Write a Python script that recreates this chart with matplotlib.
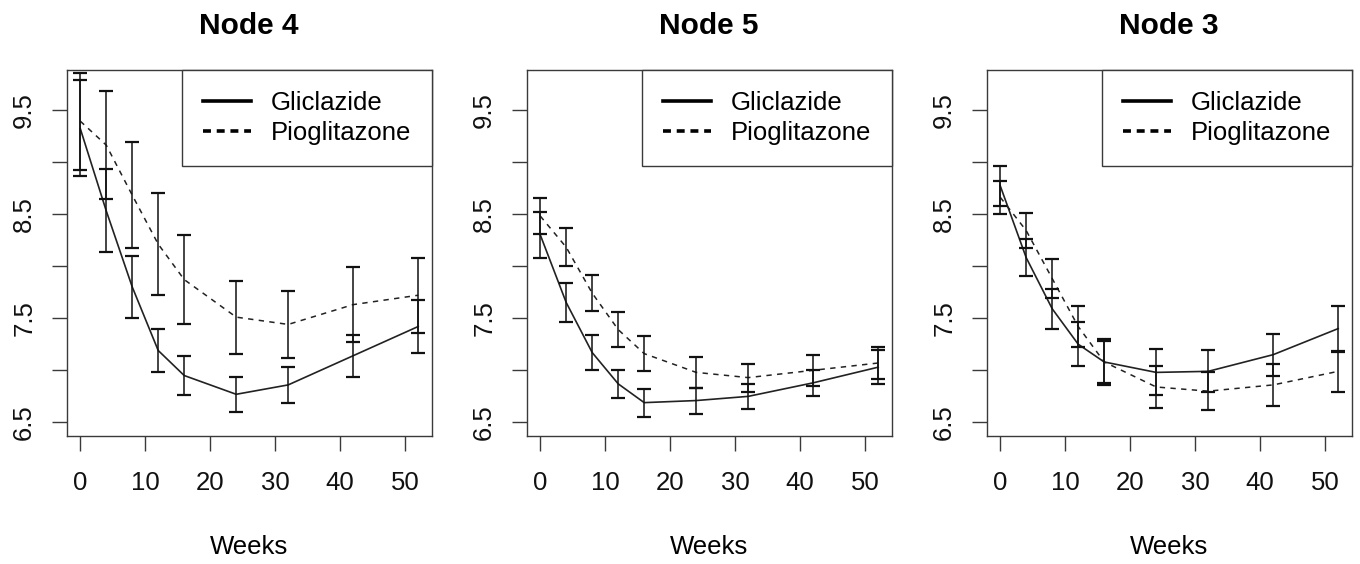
import matplotlib
matplotlib.use("Agg")
from matplotlib import pyplot as plt
from matplotlib.lines import Line2D

plt.rcParams['font.family'] = ['Liberation Sans', 'DejaVu Sans']

weeks = [0, 4, 8, 12, 16, 24, 32, 42, 52]
nodes = ["Node 4", "Node 5", "Node 3"]

# mean HbA1c and half-width of the interval, per node
glic_mean_n4 = [9.32, 8.53, 7.80, 7.19, 6.95, 6.77, 6.86, 7.14, 7.42]
glic_err_n4 = [0.46, 0.40, 0.30, 0.21, 0.19, 0.17, 0.17, 0.20, 0.25]
pio_mean_n4 = [9.39, 9.16, 8.68, 8.21, 7.87, 7.51, 7.44, 7.63, 7.72]
pio_err_n4 = [0.465, 0.52, 0.51, 0.49, 0.43, 0.35, 0.32, 0.36, 0.36]

glic_mean_n5 = [8.30, 7.65, 7.17, 6.87, 6.69, 6.71, 6.75, 6.88, 7.03]
glic_err_n5 = [0.22, 0.19, 0.165, 0.135, 0.135, 0.125, 0.12, 0.125, 0.16]
pio_mean_n5 = [8.48, 8.18, 7.74, 7.39, 7.16, 6.98, 6.93, 7.00, 7.07]
pio_err_n5 = [0.175, 0.18, 0.175, 0.17, 0.165, 0.15, 0.135, 0.15, 0.155]

glic_mean_n3 = [8.77, 8.08, 7.59, 7.25, 7.08, 6.98, 6.99, 7.15, 7.40]
glic_err_n3 = [0.19, 0.18, 0.19, 0.21, 0.22, 0.22, 0.20, 0.20, 0.22]
pio_mean_n3 = [8.66, 8.34, 7.88, 7.42, 7.08, 6.84, 6.80, 6.86, 6.99]
pio_err_n3 = [0.16, 0.17, 0.19, 0.20, 0.20, 0.20, 0.185, 0.20, 0.195]

series = [
    (glic_mean_n4, glic_err_n4, pio_mean_n4, pio_err_n4),
    (glic_mean_n5, glic_err_n5, pio_mean_n5, pio_err_n5),
    (glic_mean_n3, glic_err_n3, pio_mean_n3, pio_err_n3),
]

yticks = [6.5, 7.0, 7.5, 8.0, 8.5, 9.0, 9.5]
ylabels = ["6.5", "", "7.5", "", "8.5", "", "9.5"]

fig = plt.figure(figsize=(13.6, 5.64), dpi=100)
lefts = [66.7, 526.7, 986.7]
W, H = 1360, 564
axc = "#3a3a3a"

for i, (name, (gm, ge, pm, pe)) in enumerate(zip(nodes, series)):
    ax = fig.add_axes([lefts[i] / W, 1 - 436 / H, 365 / W, 366 / H])
    ax.plot(weeks, gm, color="#222222", lw=1.2, ls="-")
    ax.plot(weeks, pm, color="#222222", lw=1.1, ls=(0, (3.5, 3.5)))
    for m, e in ((gm, ge), (pm, pe)):
        ax.errorbar(weeks, m, yerr=e, fmt="none", ecolor="#111111",
                    elinewidth=1.1, capsize=5, capthick=1.6)

    ax.set_xlim(-2.08, 54.08)
    ax.set_ylim(6.37, 9.88)
    ax.set_xticks([0, 10, 20, 30, 40, 50])
    ax.set_yticks(yticks)
    ax.set_yticklabels(ylabels, rotation=90, va="center")
    ax.tick_params(axis="both", length=11, width=1, color=axc,
                   labelsize=18.5, labelcolor="#111111")
    ax.tick_params(axis="x", pad=14)
    ax.tick_params(axis="y", pad=11)
    for s in ax.spines.values():
        s.set_color(axc)
        s.set_linewidth(1)

    ax.set_title(name, fontsize=21.5, fontweight="bold", pad=26)
    ax.set_xlabel("Weeks", fontsize=18.5)
    ax.xaxis.set_label_coords(0.5, -0.27)

    handles = [Line2D([], [], color="black", lw=2.6, ls="-"),
               Line2D([], [], color="black", lw=2.6, ls=(0, (2.2, 1.6)))]
    leg = ax.legend(handles, ["Gliclazide", "Pioglitazone"], loc="upper right",
                    borderaxespad=0, fancybox=False, framealpha=1,
                    edgecolor=axc, fontsize=18.5, handlelength=1.9,
                    handletextpad=0.75, borderpad=0.8, labelspacing=0.25)
    leg.get_frame().set_linewidth(1)

fig.savefig("out.png", dpi=100)
